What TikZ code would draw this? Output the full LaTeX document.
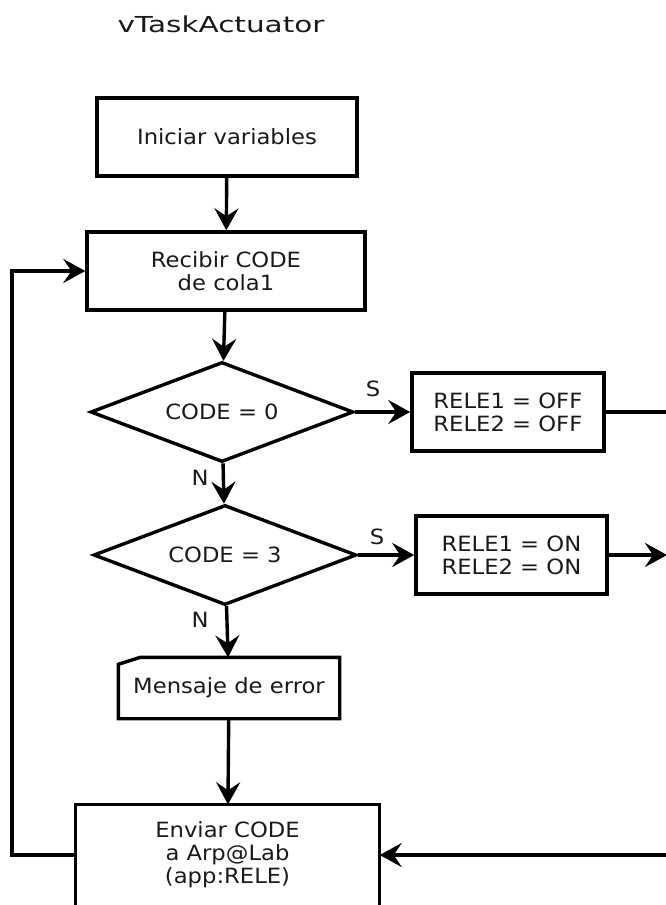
\documentclass[tikz,border=0pt]{standalone}
\usepackage{fontspec}
\setmainfont{DejaVu Sans}[FakeStretch=1.08]
\newfontfamily\titlefont{DejaVu Sans}[FakeStretch=1.34]
\usetikzlibrary{shapes.geometric,arrows.meta,positioning}

\begin{document}
\begin{tikzpicture}[x=1pt, y=-1pt, line width=3.4pt,
	>={Stealth[length=22pt,width=24pt,inset=8pt]},
	font=\fontsize{21}{23}\selectfont, text=black!90,
	proc/.style = {draw, rectangle, align=center, minimum height=78pt, inner sep=0pt},
	dec/.style = {draw, diamond, aspect=2.63, minimum width=263pt, minimum height=100pt, inner sep=0pt},
	io/.style = {rectangle, align=center, minimum width=218pt, minimum height=58pt, inner sep=0pt},
	lbl/.style = {inner sep=0pt}]
	\useasboundingbox (0,0) rectangle (666,905);
	\clip (0,0) rectangle (666,905);
	\node[font=\titlefont\fontsize{22}{26}\selectfont, anchor=base] (title) at (221,32) {vTaskActuator};
	\node[proc, minimum width=260pt] (ini) at (227,137) {Iniciar variables};
	\node[proc, minimum width=278pt] (rec) at (226,271) {Recibir CODE\\de cola1};
	\node[dec] (c0) at (222,412) {CODE = 0};
	\node[proc, minimum width=192pt, right=55pt of c0] (off) {RELE1 = OFF\\RELE2 = OFF};
	\node[dec] (c3) at (225,555) {CODE = 3};
	\node[proc, minimum width=191pt, right=56pt of c3] (on) {RELE1 = ON\\RELE2 = ON};
	\node[io] (err) at (229,688) {Mensaje de error};
	\node[align=center, minimum width=301pt, minimum height=98pt, inner sep=0pt] (env) at (227.5,855) {Enviar CODE\\a Arp@Lab\\(app:RELE)};
	% labels
	\node[lbl] (s0) at (373,389) {S};
	\node[lbl] (n0) at (200,478) {N};
	\node[lbl] (s3) at (377,537) {S};
	\node[lbl] (n3) at (200,620) {N};
	% outline of the message box and the last box
	\draw ([yshift=-7pt]err.north west) -- ([xshift=22pt]err.north west) -- (err.north east)
		-- (err.south east) -- (err.south west) -- cycle;
	\draw ([yshift=-20pt]env.south west) rectangle (env.north east);
	% loose ends
	\coordinate (r1) at (680,0);
	\coordinate (r2) at (667,0);
	\coordinate (r3) at (680,855);
	\coordinate (l) at (12,0);
	\draw[->] (ini) -- (rec);
	\draw[->] (rec) -- (c0);
	\draw[->] (c0) -- (off);
	\draw[->] (c0) -- (c3);
	\draw[->] (c3) -- (on);
	\draw[->] (c3) -- (err);
	\draw[->] (err) -- (env);
	\draw (off.east) -- (off.east -| r1);
	\draw[->] (on.east) -- (on.east -| r2);
	\draw[->] (r3) -- (env.east);
	\draw[->] (env.west) -- (env.west -| l) |- (rec.west);
\end{tikzpicture}
\end{document}
